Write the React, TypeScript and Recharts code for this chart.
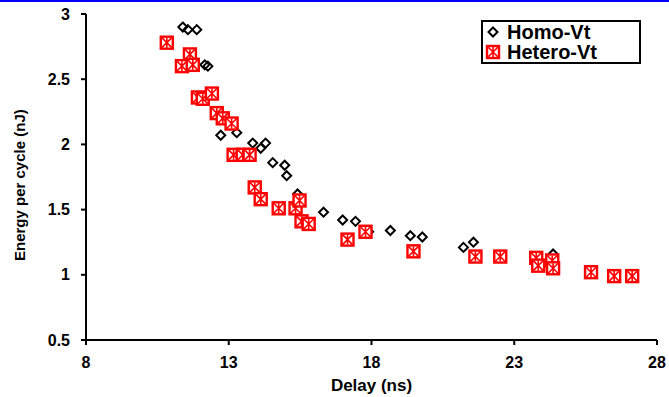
import React from 'react';
import { ScatterChart, Scatter, XAxis, YAxis } from 'recharts';

const homoDelay = [11.39, 11.57, 11.88, 12.16, 12.27, 13.10, 12.72, 13.28, 13.84, 14.12, 14.29, 14.54, 14.96, 15.03, 15.41, 16.32, 16.99, 17.44, 17.90, 18.66, 19.36, 19.78, 21.22, 21.57, 24.36];
const homoEnergy = [2.90, 2.88, 2.88, 2.61, 2.60, 2.16, 2.07, 2.09, 2.01, 1.97, 2.01, 1.86, 1.84, 1.76, 1.62, 1.48, 1.42, 1.41, 1.33, 1.34, 1.30, 1.29, 1.21, 1.25, 1.16];

const heteroDelay = [10.83, 11.64, 11.36, 11.74, 11.92, 12.09, 12.41, 12.58, 12.79, 13.10, 13.17, 13.49, 13.73, 13.91, 14.12, 14.75, 15.34, 15.48, 15.55, 15.80, 17.16, 17.79, 19.47, 21.64, 22.51, 23.77, 23.84, 24.33, 24.36, 25.69, 26.50, 27.13];
const heteroEnergy = [2.78, 2.69, 2.60, 2.61, 2.36, 2.35, 2.39, 2.24, 2.20, 2.16, 1.92, 1.92, 1.92, 1.67, 1.58, 1.51, 1.51, 1.57, 1.41, 1.39, 1.27, 1.33, 1.18, 1.14, 1.14, 1.13, 1.07, 1.11, 1.05, 1.02, 0.99, 0.99];

const xTicks = [8, 13, 18, 23, 28];
const yTicks = [0.5, 1, 1.5, 2, 2.5, 3];

const homoData = homoDelay.map((x, i) => ({ x, y: homoEnergy[i] }));
const heteroData = heteroDelay.map((x, i) => ({ x, y: heteroEnergy[i] }));

const font = '"Liberation Sans", Arial, sans-serif';

const DiamondMark = ({ cx, cy }: any) => (
  <path
    d={`M${cx},${cy - 4.5} L${cx + 4.5},${cy} L${cx},${cy + 4.5} L${cx - 4.5},${cy} Z`}
    fill="none"
    stroke="#000"
    strokeWidth={2}
  />
);

const BoxMark = ({ cx, cy }: any) => (
  <g>
    <rect x={cx - 6} y={cy - 6} width={12} height={12} fill="#fff" stroke="#f00" strokeWidth={2.4} />
    <path
      d={`M${cx - 5},${cy - 5} L${cx + 5},${cy + 5} M${cx + 5},${cy - 5} L${cx - 5},${cy + 5} M${cx},${cy - 5} L${cx},${cy + 5}`}
      stroke="#f00"
      strokeWidth={1.6}
    />
  </g>
);

const LegendBox = () => (
  <div
    style={{
      position: 'absolute',
      left: 481,
      top: 20,
      width: 156,
      height: 40,
      border: '2px solid #000',
      background: '#fff',
      fontFamily: font,
      fontWeight: 'bold',
      fontSize: 20,
      lineHeight: '20px',
      color: '#000',
    }}
  >
    <div style={{ display: 'flex', alignItems: 'center', height: 20 }}>
      <svg width={24} height={16}>
        <DiamondMark cx={10} cy={8} />
      </svg>
      <span>Homo-Vt</span>
    </div>
    <div style={{ display: 'flex', alignItems: 'center', height: 20 }}>
      <svg width={24} height={16}>
        <BoxMark cx={10} cy={8} />
      </svg>
      <span>Hetero-Vt</span>
    </div>
  </div>
);

export default function App() {
  return (
    <div style={{ position: 'absolute', left: 0, top: 0, width: 669, height: 397, background: '#fff' }}>
      <div style={{ position: 'absolute', left: 0, top: 0, width: 669, height: 2, background: '#00f' }} />
      <ScatterChart width={669} height={397} margin={{ top: 14, right: 12, bottom: 0, left: 26 }}>
        <XAxis
          type="number"
          dataKey="x"
          domain={[8, 28]}
          ticks={xTicks}
          height={57}
          stroke="#000"
          strokeWidth={2}
          tickSize={5}
          tickMargin={12}
          tick={{ fill: '#000', fontFamily: font, fontWeight: 'bold', fontSize: 16 }}
          label={{ value: 'Delay (ns)', position: 'insideBottom', offset: 6, fill: '#000', fontFamily: font, fontWeight: 'bold', fontSize: 17 }}
        />
        <XAxis
          xAxisId="top"
          orientation="top"
          type="number"
          dataKey="x"
          domain={[8, 28]}
          height={0}
          tick={false}
          tickLine={false}
          stroke="#000"
          strokeWidth={2}
        />
        <YAxis
          type="number"
          dataKey="y"
          domain={[0.5, 3]}
          ticks={yTicks}
          width={60}
          stroke="#000"
          strokeWidth={2}
          tickSize={5}
          tickMargin={11}
          tick={{ fill: '#000', fontFamily: font, fontWeight: 'bold', fontSize: 16 }}
          label={{ value: 'Energy per cycle (nJ)', angle: -90, position: 'insideLeft', offset: -6, dy: 84, fill: '#000', fontFamily: font, fontWeight: 'bold', fontSize: 15 }}
        />
        <YAxis
          yAxisId="right"
          orientation="right"
          type="number"
          dataKey="y"
          domain={[0.5, 3]}
          width={0}
          tick={false}
          tickLine={false}
          stroke="#000"
          strokeWidth={2}
        />
        <Scatter name="Homo-Vt" data={homoData} shape={DiamondMark} isAnimationActive={false} />
        <Scatter name="Hetero-Vt" data={heteroData} shape={BoxMark} isAnimationActive={false} />
      </ScatterChart>
      <LegendBox />
    </div>
  );
}
